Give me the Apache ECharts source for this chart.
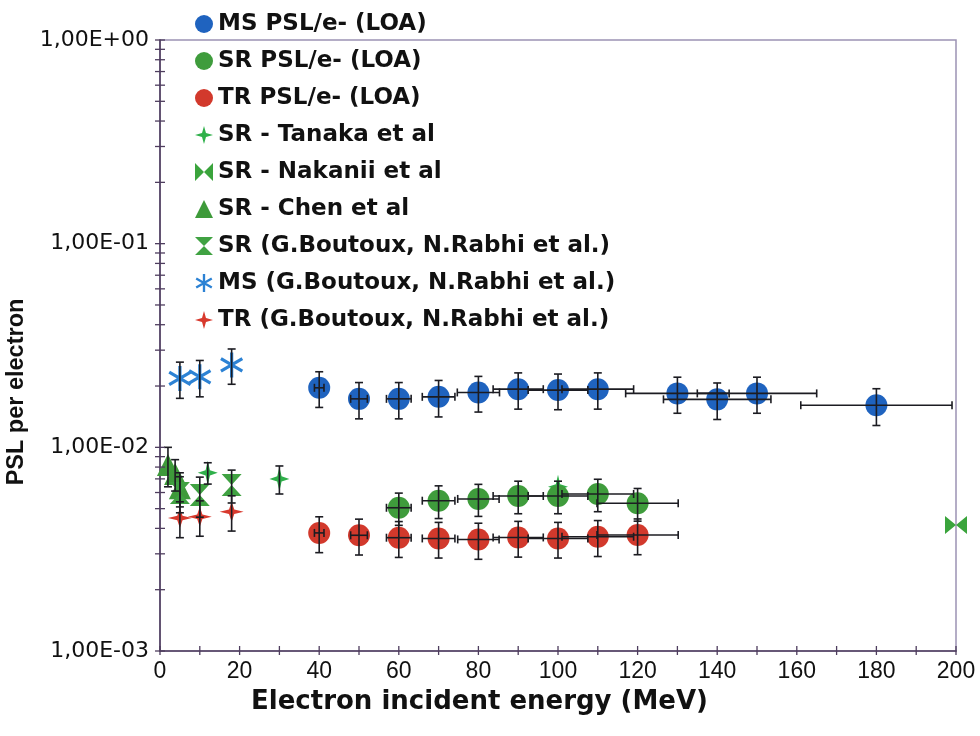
<!DOCTYPE html>
<html><head><meta charset="utf-8">
<script src="https://cdn.jsdelivr.net/npm/echarts@6/dist/echarts.min.js"></script>
<style>html,body{margin:0;padding:0;background:#fff}#c{width:980px;height:736px}</style>
</head><body><div id="c"></div>
<script>
// ---------- data ----------
const msLoaX    = [40, 50, 60, 70, 80, 90, 100, 110, 130, 140, 150, 180];
const msLoaY    = [0.0196, 0.0173, 0.0173, 0.0177, 0.0186, 0.0193, 0.0191, 0.0193, 0.0184, 0.0172, 0.0184, 0.0161];
const msLoaYErr = [0.0039, 0.0035, 0.0035, 0.0036, 0.0037, 0.0039, 0.0038, 0.0039, 0.0037, 0.0035, 0.0037, 0.0033];
const msLoaXErr = [1.2, 2.1, 3.1, 4.1, 5.3, 6.3, 7.5, 9, 13, 13.5, 15, 19];

const srLoaX    = [60, 70, 80, 90, 100, 110, 120];
const srLoaY    = [0.00505, 0.00547, 0.00558, 0.00577, 0.00577, 0.0059, 0.00531];
const srLoaYErr = [0.00091, 0.001, 0.001, 0.00105, 0.00105, 0.00107, 0.00097];
const srLoaXErr = [3.1, 4.1, 5.2, 6.3, 7.5, 9, 10.2];

const trLoaX    = [40, 50, 60, 70, 80, 90, 100, 110, 120];
const trLoaY    = [0.0038, 0.0037, 0.0036, 0.00357, 0.00353, 0.00361, 0.00357, 0.00364, 0.00371];
const trLoaYErr = [0.00076, 0.00074, 0.00072, 0.00071, 0.00071, 0.00072, 0.00071, 0.00073, 0.00074];
const trLoaXErr = [1.2, 2.1, 3.1, 4.1, 5.2, 6.3, 7.5, 9, 10.2];

const tanakaX    = [12, 30, 100];
const tanakaY    = [0.0075, 0.0070, 0.0064];
const tanakaYErr = [0.0009, 0.0011, 0];

const nakaniiX = [200];
const nakaniiY = [0.00415];

const chenX    = [2, 3.8, 5];
const chenY    = [0.0082, 0.0074, 0.0063];
const chenYErr = [0.0018, 0.0013, 0.0012];

const boutSrX    = [5, 10, 18];
const boutSrY    = [0.00597, 0.00584, 0.00653];
const boutSrYErr = [0.0012, 0.0013, 0.0012];

const boutMsX    = [5, 10, 18];
const boutMsY    = [0.0218, 0.0222, 0.0254];
const boutMsYErr = [0.0044, 0.0045, 0.005];

const boutTrX    = [5, 10, 18];
const boutTrY    = [0.0045, 0.00456, 0.00483];
const boutTrYErr = [0.0009, 0.0009, 0.00095];

// axis ticks
const xTickValues   = [0,10,20,30,40,50,60,70,80,90,100,110,120,130,140,150,160,170,180,190,200];
const yDecades      = [0.001, 0.01, 0.1, 1];
const yMinorFactors = [2, 3, 4, 5, 6, 7, 8, 9];

// ---------- styling ----------
const AXIS = '#4e3d5e';
const BORDER = '#9c92b4';
const ERR = '#1c1c22';
const BOLD = 'DejaVu Sans';

const P_STAR = 'path://M10,0L12.2,7.8L20,10L12.2,12.2L10,20L7.8,12.2L0,10L7.8,7.8Z';
const P_BOWTIE = 'path://M0,0L10,10L0,20Z M20,0L20,20L10,10Z';
const P_HOURGLASS = 'path://M0,0L20,0L10,10Z M0,20L10,10L20,20Z';
const P_ASTER = 'path://M8.7,0L11.3,0L11.3,20L8.7,20Z M19.31,6.13L1.99,16.13L0.69,13.87L18.01,3.87Z M18.01,16.13L0.69,6.13L1.99,3.87L19.31,13.87Z';

function zip(xs, ys) { return xs.map((x, i) => [x, ys[i]]); }

function ln(x1, y1, x2, y2, color, w) {
  return { type: 'line', shape: { x1, y1, x2, y2 }, style: { stroke: color, lineWidth: w } };
}

function errSeries(xs, ys, xErr, yErr) {
  return {
    type: 'custom', silent: true, z: 6, clip: false,
    data: xs.map((x, i) => [x, ys[i], xErr ? xErr[i] : 0, yErr ? yErr[i] : 0]),
    encode: { x: 0, y: 1 },
    renderItem(params, api) {
      const x = api.value(0), y = api.value(1), ex = api.value(2), ey = api.value(3);
      const ch = [], cap = 4;
      if (ey > 0) {
        const t = api.coord([x, y + ey]), b = api.coord([x, y - ey]);
        ch.push(ln(t[0], t[1], b[0], b[1], ERR, 1.6));
        ch.push(ln(t[0] - cap, t[1], t[0] + cap, t[1], ERR, 1.6));
        ch.push(ln(b[0] - cap, b[1], b[0] + cap, b[1], ERR, 1.6));
      }
      if (ex > 0) {
        const l = api.coord([x - ex, y]), r = api.coord([x + ex, y]);
        ch.push(ln(l[0], l[1], r[0], r[1], ERR, 1.6));
        ch.push(ln(l[0], l[1] - cap, l[0], l[1] + cap, ERR, 1.6));
        ch.push(ln(r[0], r[1] - cap, r[0], r[1] + cap, ERR, 1.6));
      }
      return { type: 'group', children: ch };
    }
  };
}

const yTickData = [];
yDecades.forEach(d => {
  yTickData.push([0, d, 1]);
  if (d < 1) yMinorFactors.forEach(f => yTickData.push([0, d * f, 0]));
});

const tickSeriesY = {
  type: 'custom', silent: true, z: 8, clip: false,
  data: yTickData, encode: { x: 0, y: 1 },
  renderItem(params, api) {
    const p = api.coord([api.value(0), api.value(1)]);
    const len = 5;
    return ln(p[0] - len, p[1], p[0] + len, p[1], AXIS, 1.3);
  }
};
const tickSeriesX = {
  type: 'custom', silent: true, z: 8, clip: false,
  data: xTickValues.map(v => [v, 0.001]), encode: { x: 0, y: 1 },
  renderItem(params, api) {
    const p = api.coord([api.value(0), api.value(1)]);
    return ln(p[0], p[1] - 5, p[0], p[1] + 4, AXIS, 1.3);
  }
};

const names = [
  'MS PSL/e- (LOA)', 'SR PSL/e- (LOA)', 'TR PSL/e- (LOA)',
  'SR - Tanaka et al', 'SR - Nakanii et al', 'SR - Chen et al',
  'SR (G.Boutoux, N.Rabhi et al.)', 'MS (G.Boutoux, N.Rabhi et al.)', 'TR (G.Boutoux, N.Rabhi et al.)'
];

function sc(name, xs, ys, symbol, size, color, z) {
  return { name, type: 'scatter', data: zip(xs, ys), symbol, symbolSize: size,
    itemStyle: { color, opacity: 1 }, z: z || 3, clip: false, silent: true };
}

const option = {
  animation: false,
  backgroundColor: '#ffffff',
  grid: { left: 160, right: 24, top: 40, bottom: 85, show: true, borderColor: BORDER, borderWidth: 1.5,
          backgroundColor: 'transparent', containLabel: false, outerBoundsMode: 'none' },
  xAxis: {
    type: 'value', min: 0, max: 200, interval: 20,
    axisLine: { show: true, onZero: false, lineStyle: { color: AXIS, width: 1.6 } },
    axisTick: { show: false }, splitLine: { show: false },
    axisLabel: { margin: 9, fontSize: 23, color: '#111', fontFamily: "'Liberation Sans Narrow', 'Liberation Sans', sans-serif" },
    name: 'Electron incident energy (MeV)', nameLocation: 'middle', nameGap: 38,
    nameTextStyle: { fontFamily: BOLD, fontWeight: 'bold', fontSize: 26, color: '#111', padding: [0, 157, 0, 0] }
  },
  yAxis: {
    type: 'log', logBase: 10, min: 0.001, max: 1,
    axisLine: { show: true, onZero: false, lineStyle: { color: AXIS, width: 1.6 } },
    axisTick: { show: false }, splitLine: { show: false }, minorTick: { show: false },
    axisLabel: {
      margin: 11, fontSize: 22, color: '#111', fontFamily: 'DejaVu Sans',
      formatter: v => { const e = Math.round(Math.log10(v)); return '1,00E' + (e < 0 ? '-' : '+') + String(Math.abs(e)).padStart(2, '0'); }
    },
    name: 'PSL per electron', nameLocation: 'middle', nameRotate: 90, nameGap: 127,
    nameTextStyle: { fontFamily: 'Liberation Sans', fontWeight: 'bold', fontSize: 23.5, color: '#111', padding: [0, 93, 0, 0] }
  },
  legend: {
    orient: 'vertical', left: 190, top: 7, itemWidth: 18, itemHeight: 18, itemGap: 13,
    data: names, selectedMode: false,
    textStyle: { fontFamily: BOLD, fontWeight: 'bold', fontSize: 23, color: '#111', lineHeight: 24 }
  },
  series: [
    sc(names[0], msLoaX, msLoaY, 'circle', 22, '#1f63bf'),
    sc(names[1], srLoaX, srLoaY, 'circle', 22, '#3f9c3c'),
    sc(names[2], trLoaX, trLoaY, 'circle', 22, '#d2392c'),
    sc(names[3], tanakaX, tanakaY, P_STAR, [20, 24], '#2fb04a', 2),
    sc(names[4], nakaniiX, nakaniiY, P_BOWTIE, [22, 18], '#3aa43c'),
    sc(names[5], chenX, chenY, 'triangle', [22, 22], '#3e9a3a'),
    sc(names[6], boutSrX, boutSrY, P_HOURGLASS, [20, 22], '#40a242'),
    sc(names[7], boutMsX, boutMsY, P_ASTER, [23, 25], '#2c82d4'),
    sc(names[8], boutTrX, boutTrY, P_STAR, [24, 20], '#d8392d'),
    errSeries(msLoaX, msLoaY, msLoaXErr, msLoaYErr),
    errSeries(srLoaX, srLoaY, srLoaXErr, srLoaYErr),
    errSeries(trLoaX, trLoaY, trLoaXErr, trLoaYErr),
    errSeries(tanakaX, tanakaY, null, tanakaYErr),
    errSeries(chenX, chenY, null, chenYErr),
    errSeries(boutSrX, boutSrY, null, boutSrYErr),
    errSeries(boutMsX, boutMsY, null, boutMsYErr),
    errSeries(boutTrX, boutTrY, null, boutTrYErr),
    tickSeriesY, tickSeriesX
  ]
};

const chart = echarts.init(document.getElementById('c'), null, { renderer: 'canvas' });
chart.setOption(option);
</script>
</body></html>
